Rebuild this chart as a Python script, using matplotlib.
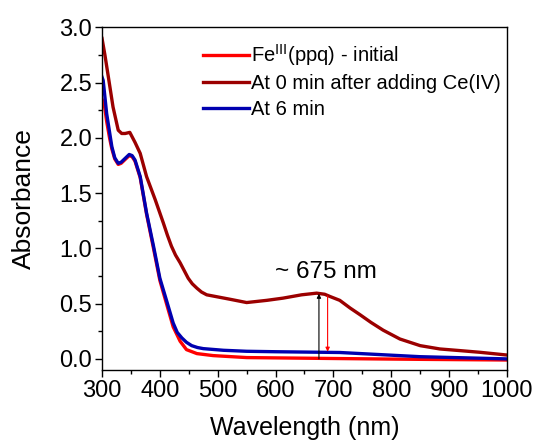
import matplotlib
matplotlib.use("Agg")
import matplotlib.pyplot as plt
from matplotlib.ticker import FormatStrFormatter

plt.rcParams['font.family'] = ['Liberation Sans', 'DejaVu Sans']

# Fe(III)(ppq) initial
wl_red = [300, 304, 308, 313, 317, 322, 328, 333, 337, 347, 352, 357, 366, 377, 389, 400, 412, 423, 435, 446, 464, 492, 550, 711, 850, 1000]
abs_red = [2.35, 2.3, 2.15, 2.0, 1.9, 1.81, 1.76, 1.77, 1.79, 1.84, 1.83, 1.79, 1.64, 1.31, 1.0, 0.71, 0.49, 0.29, 0.16, 0.084, 0.048, 0.03, 0.012, 0.003, -0.004, -0.01]

# At 0 min after adding Ce(IV)
wl_dark = [300, 305, 311, 319, 328, 334, 340, 348, 357, 366, 377, 392, 406, 413, 420, 427, 435, 442, 449, 456, 464, 472, 481, 501, 521, 550, 585, 613, 645, 671, 685, 694, 711, 729, 746, 765, 786, 815, 850, 884, 919, 953, 1000]
abs_dark = [2.9, 2.75, 2.55, 2.28, 2.07, 2.04, 2.04, 2.05, 1.96, 1.86, 1.65, 1.44, 1.23, 1.12, 1.02, 0.94, 0.87, 0.8, 0.73, 0.68, 0.64, 0.605, 0.58, 0.56, 0.54, 0.51, 0.53, 0.55, 0.58, 0.595, 0.585, 0.565, 0.53, 0.46, 0.40, 0.33, 0.26, 0.18, 0.12, 0.09, 0.075, 0.06, 0.035]

# At 6 min
wl_blue = [300, 302, 308, 317, 322, 328, 333, 337, 347, 352, 357, 366, 377, 389, 400, 412, 423, 430, 438, 446, 455, 465, 475, 510, 550, 600, 711, 850, 1000]
abs_blue = [2.55, 2.52, 2.22, 1.92, 1.82, 1.77, 1.78, 1.8, 1.85, 1.84, 1.8, 1.65, 1.32, 1.02, 0.73, 0.52, 0.325, 0.24, 0.19, 0.15, 0.12, 0.103, 0.093, 0.078, 0.069, 0.065, 0.058, 0.02, 0.0]

labels = [r"Fe$^{\mathrm{III}}$(ppq) - initial", "At 0 min after adding Ce(IV)", "At 6 min"]
peak_wl = 675
peak_abs = 0.59
red_arrow_wl = 690
red_arrow_top = 0.57
red_arrow_bottom = 0.065

fig = plt.figure(figsize=(5.37, 4.42), dpi=100)
ax = fig.add_axes([0.19, 0.163, 0.754, 0.775])

ax.plot(wl_red, abs_red, color='#FF0000', lw=2.4, label=labels[0])
ax.plot(wl_dark, abs_dark, color='#9B0000', lw=2.4, label=labels[1])
ax.plot(wl_blue, abs_blue, color='#0000B0', lw=2.4, label=labels[2])

ax.annotate('', xy=(peak_wl, peak_abs), xytext=(peak_wl, 0.0),
            arrowprops=dict(arrowstyle='-|>', color='black', lw=0.8, mutation_scale=6,
                            shrinkA=0, shrinkB=0))
ax.annotate('', xy=(red_arrow_wl, red_arrow_bottom), xytext=(red_arrow_wl, red_arrow_top),
            arrowprops=dict(arrowstyle='-|>', color='red', lw=0.8, mutation_scale=6,
                            shrinkA=0, shrinkB=0))
ax.text(687, 0.79, '~ 675 nm', ha='center', va='center', fontsize=17.5)

ax.set_xlim(300, 1000)
ax.set_ylim(-0.1, 3.0)
ax.set_xticks(range(300, 1001, 100))
ax.set_xticks(range(350, 1000, 100), minor=True)
ax.set_yticks([0.0, 0.5, 1.0, 1.5, 2.0, 2.5, 3.0])
ax.set_yticks([0.25, 0.75, 1.25, 1.75, 2.25, 2.75], minor=True)
ax.yaxis.set_major_formatter(FormatStrFormatter('%.1f'))
ax.tick_params(which='major', direction='out', length=5, width=1, labelsize=17, pad=2)
ax.tick_params(which='minor', direction='out', length=3, width=1)
for s in ax.spines.values():
    s.set_linewidth(1.0)

ax.set_xlabel('Wavelength (nm)', fontsize=18, labelpad=10)
ax.set_ylabel('Absorbance', fontsize=19, labelpad=17)

leg = fig.legend(loc='upper left', frameon=False, fontsize=14.5, handlelength=2.3,
                 handletextpad=0.1, labelspacing=0.32, borderpad=0, borderaxespad=0,
                 bbox_to_anchor=(0.378, 0.905))

fig.savefig('out.png', dpi=100)
